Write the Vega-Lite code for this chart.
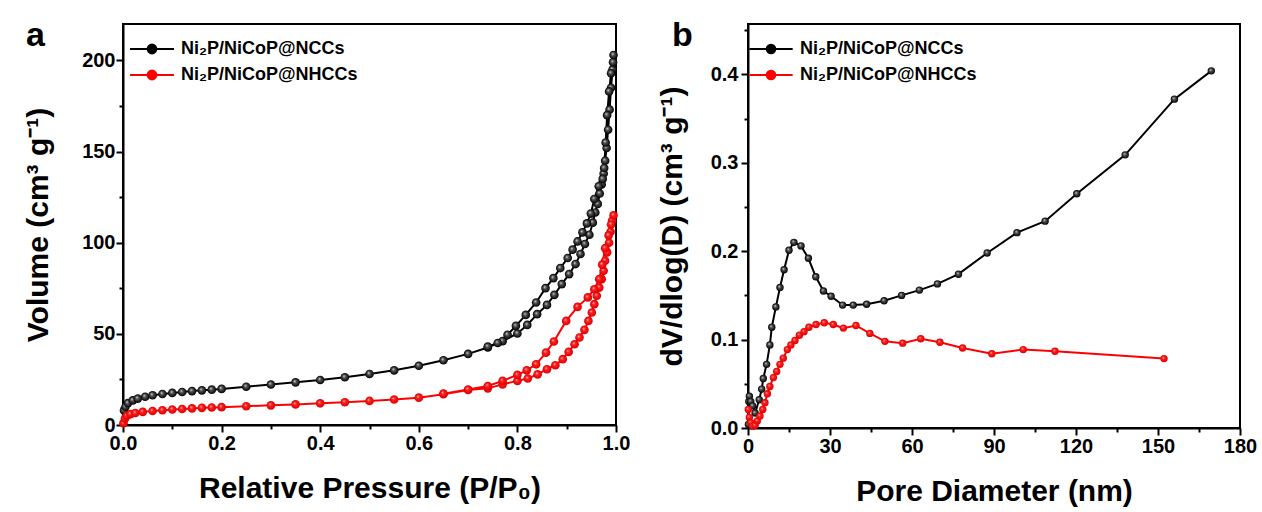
{
  "$schema": "https://vega.github.io/schema/vega-lite/v6.json",
  "background": "white",
  "padding": {"left": 22, "top": 18, "right": 10, "bottom": 5},
  "spacing": 25,
  "config": {
    "font": "Liberation Sans",
    "view": {"stroke": "black", "strokeWidth": 2},
    "axis": {
      "grid": false,
      "domainColor": "black",
      "domainWidth": 2,
      "tickColor": "black",
      "tickWidth": 2,
      "labelColor": "black",
      "labelFont": "Liberation Sans",
      "labelFontSize": 20,
      "labelFontWeight": "bold",
      "labelOverlap": false,
      "labelFlush": false,
      "titleColor": "black",
      "titleFont": "Liberation Sans",
      "titleFontSize": 30,
      "titleFontWeight": "bold"
    },
    "legend": {
      "labelFont": "Liberation Sans",
      "labelFontSize": 18,
      "labelFontWeight": "bold",
      "labelColor": "black",
      "labelLimit": 400
    }
  },
  "resolve": {"scale": {"color": "independent"}, "legend": {"color": "independent"}},
  "datasets": {
    "iso": [
      {"s": "Ni₂P/NiCoP@NCCs", "o": 1, "p": 0.002, "v": 8},
      {"s": "Ni₂P/NiCoP@NCCs", "o": 2, "p": 0.005, "v": 10},
      {"s": "Ni₂P/NiCoP@NCCs", "o": 3, "p": 0.01, "v": 12},
      {"s": "Ni₂P/NiCoP@NCCs", "o": 4, "p": 0.02, "v": 13.5},
      {"s": "Ni₂P/NiCoP@NCCs", "o": 5, "p": 0.03, "v": 14.5},
      {"s": "Ni₂P/NiCoP@NCCs", "o": 6, "p": 0.045, "v": 15.5},
      {"s": "Ni₂P/NiCoP@NCCs", "o": 7, "p": 0.06, "v": 16.3},
      {"s": "Ni₂P/NiCoP@NCCs", "o": 8, "p": 0.08, "v": 17},
      {"s": "Ni₂P/NiCoP@NCCs", "o": 9, "p": 0.1, "v": 17.6},
      {"s": "Ni₂P/NiCoP@NCCs", "o": 10, "p": 0.12, "v": 18.1},
      {"s": "Ni₂P/NiCoP@NCCs", "o": 11, "p": 0.14, "v": 18.6},
      {"s": "Ni₂P/NiCoP@NCCs", "o": 12, "p": 0.16, "v": 19},
      {"s": "Ni₂P/NiCoP@NCCs", "o": 13, "p": 0.18, "v": 19.4},
      {"s": "Ni₂P/NiCoP@NCCs", "o": 14, "p": 0.2, "v": 19.8},
      {"s": "Ni₂P/NiCoP@NCCs", "o": 15, "p": 0.25, "v": 21},
      {"s": "Ni₂P/NiCoP@NCCs", "o": 16, "p": 0.3, "v": 22.2},
      {"s": "Ni₂P/NiCoP@NCCs", "o": 17, "p": 0.35, "v": 23.4},
      {"s": "Ni₂P/NiCoP@NCCs", "o": 18, "p": 0.4, "v": 24.7},
      {"s": "Ni₂P/NiCoP@NCCs", "o": 19, "p": 0.45, "v": 26.2},
      {"s": "Ni₂P/NiCoP@NCCs", "o": 20, "p": 0.5, "v": 28},
      {"s": "Ni₂P/NiCoP@NCCs", "o": 21, "p": 0.55, "v": 30},
      {"s": "Ni₂P/NiCoP@NCCs", "o": 22, "p": 0.6, "v": 32.5},
      {"s": "Ni₂P/NiCoP@NCCs", "o": 23, "p": 0.65, "v": 35.5},
      {"s": "Ni₂P/NiCoP@NCCs", "o": 24, "p": 0.7, "v": 39},
      {"s": "Ni₂P/NiCoP@NCCs", "o": 25, "p": 0.74, "v": 42.5},
      {"s": "Ni₂P/NiCoP@NCCs", "o": 26, "p": 0.77, "v": 46},
      {"s": "Ni₂P/NiCoP@NCCs", "o": 27, "p": 0.8, "v": 50.2},
      {"s": "Ni₂P/NiCoP@NCCs", "o": 28, "p": 0.82, "v": 54.9},
      {"s": "Ni₂P/NiCoP@NCCs", "o": 29, "p": 0.84, "v": 60.8},
      {"s": "Ni₂P/NiCoP@NCCs", "o": 30, "p": 0.86, "v": 65.9},
      {"s": "Ni₂P/NiCoP@NCCs", "o": 31, "p": 0.875, "v": 71.4},
      {"s": "Ni₂P/NiCoP@NCCs", "o": 32, "p": 0.89, "v": 77.3},
      {"s": "Ni₂P/NiCoP@NCCs", "o": 33, "p": 0.905, "v": 82.8},
      {"s": "Ni₂P/NiCoP@NCCs", "o": 34, "p": 0.918, "v": 88.3},
      {"s": "Ni₂P/NiCoP@NCCs", "o": 35, "p": 0.928, "v": 93.8},
      {"s": "Ni₂P/NiCoP@NCCs", "o": 36, "p": 0.937, "v": 99.3},
      {"s": "Ni₂P/NiCoP@NCCs", "o": 37, "p": 0.946, "v": 104.4},
      {"s": "Ni₂P/NiCoP@NCCs", "o": 38, "p": 0.953, "v": 111},
      {"s": "Ni₂P/NiCoP@NCCs", "o": 39, "p": 0.958, "v": 116.6},
      {"s": "Ni₂P/NiCoP@NCCs", "o": 40, "p": 0.963, "v": 121.3},
      {"s": "Ni₂P/NiCoP@NCCs", "o": 41, "p": 0.967, "v": 127},
      {"s": "Ni₂P/NiCoP@NCCs", "o": 42, "p": 0.971, "v": 132},
      {"s": "Ni₂P/NiCoP@NCCs", "o": 43, "p": 0.975, "v": 138},
      {"s": "Ni₂P/NiCoP@NCCs", "o": 44, "p": 0.978, "v": 145},
      {"s": "Ni₂P/NiCoP@NCCs", "o": 45, "p": 0.981, "v": 152},
      {"s": "Ni₂P/NiCoP@NCCs", "o": 46, "p": 0.984, "v": 162},
      {"s": "Ni₂P/NiCoP@NCCs", "o": 47, "p": 0.987, "v": 173},
      {"s": "Ni₂P/NiCoP@NCCs", "o": 48, "p": 0.99, "v": 185},
      {"s": "Ni₂P/NiCoP@NCCs", "o": 49, "p": 0.993, "v": 195},
      {"s": "Ni₂P/NiCoP@NCCs", "o": 50, "p": 0.995, "v": 203},
      {"s": "Ni₂P/NiCoP@NCCs", "o": 51, "p": 0.994, "v": 199},
      {"s": "Ni₂P/NiCoP@NCCs", "o": 52, "p": 0.99, "v": 193},
      {"s": "Ni₂P/NiCoP@NCCs", "o": 53, "p": 0.986, "v": 183},
      {"s": "Ni₂P/NiCoP@NCCs", "o": 54, "p": 0.982, "v": 170},
      {"s": "Ni₂P/NiCoP@NCCs", "o": 55, "p": 0.979, "v": 155},
      {"s": "Ni₂P/NiCoP@NCCs", "o": 56, "p": 0.976, "v": 141},
      {"s": "Ni₂P/NiCoP@NCCs", "o": 57, "p": 0.973, "v": 135},
      {"s": "Ni₂P/NiCoP@NCCs", "o": 58, "p": 0.965, "v": 131},
      {"s": "Ni₂P/NiCoP@NCCs", "o": 59, "p": 0.956, "v": 124},
      {"s": "Ni₂P/NiCoP@NCCs", "o": 60, "p": 0.949, "v": 116},
      {"s": "Ni₂P/NiCoP@NCCs", "o": 61, "p": 0.941, "v": 110.6},
      {"s": "Ni₂P/NiCoP@NCCs", "o": 62, "p": 0.932, "v": 105.7},
      {"s": "Ni₂P/NiCoP@NCCs", "o": 63, "p": 0.922, "v": 100.7},
      {"s": "Ni₂P/NiCoP@NCCs", "o": 64, "p": 0.912, "v": 96.2},
      {"s": "Ni₂P/NiCoP@NCCs", "o": 65, "p": 0.902, "v": 91.6},
      {"s": "Ni₂P/NiCoP@NCCs", "o": 66, "p": 0.887, "v": 86.1},
      {"s": "Ni₂P/NiCoP@NCCs", "o": 67, "p": 0.873, "v": 80.6},
      {"s": "Ni₂P/NiCoP@NCCs", "o": 68, "p": 0.857, "v": 75.1},
      {"s": "Ni₂P/NiCoP@NCCs", "o": 69, "p": 0.838, "v": 67.2},
      {"s": "Ni₂P/NiCoP@NCCs", "o": 70, "p": 0.817, "v": 60.4},
      {"s": "Ni₂P/NiCoP@NCCs", "o": 71, "p": 0.797, "v": 54.4},
      {"s": "Ni₂P/NiCoP@NCCs", "o": 72, "p": 0.78, "v": 49.5},
      {"s": "Ni₂P/NiCoP@NCCs", "o": 73, "p": 0.76, "v": 45},
      {"s": "Ni₂P/NiCoP@NCCs", "o": 74, "p": 0.74, "v": 43},
      {"s": "Ni₂P/NiCoP@NHCCs", "o": 1, "p": 0.001, "v": 1},
      {"s": "Ni₂P/NiCoP@NHCCs", "o": 2, "p": 0.004, "v": 3.5},
      {"s": "Ni₂P/NiCoP@NHCCs", "o": 3, "p": 0.008, "v": 5},
      {"s": "Ni₂P/NiCoP@NHCCs", "o": 4, "p": 0.015, "v": 6},
      {"s": "Ni₂P/NiCoP@NHCCs", "o": 5, "p": 0.025, "v": 6.6},
      {"s": "Ni₂P/NiCoP@NHCCs", "o": 6, "p": 0.04, "v": 7.2},
      {"s": "Ni₂P/NiCoP@NHCCs", "o": 7, "p": 0.06, "v": 7.7},
      {"s": "Ni₂P/NiCoP@NHCCs", "o": 8, "p": 0.08, "v": 8.1},
      {"s": "Ni₂P/NiCoP@NHCCs", "o": 9, "p": 0.1, "v": 8.5},
      {"s": "Ni₂P/NiCoP@NHCCs", "o": 10, "p": 0.12, "v": 8.8},
      {"s": "Ni₂P/NiCoP@NHCCs", "o": 11, "p": 0.14, "v": 9.1},
      {"s": "Ni₂P/NiCoP@NHCCs", "o": 12, "p": 0.16, "v": 9.4},
      {"s": "Ni₂P/NiCoP@NHCCs", "o": 13, "p": 0.18, "v": 9.6},
      {"s": "Ni₂P/NiCoP@NHCCs", "o": 14, "p": 0.2, "v": 9.8},
      {"s": "Ni₂P/NiCoP@NHCCs", "o": 15, "p": 0.25, "v": 10.3},
      {"s": "Ni₂P/NiCoP@NHCCs", "o": 16, "p": 0.3, "v": 10.8},
      {"s": "Ni₂P/NiCoP@NHCCs", "o": 17, "p": 0.35, "v": 11.3},
      {"s": "Ni₂P/NiCoP@NHCCs", "o": 18, "p": 0.4, "v": 11.9},
      {"s": "Ni₂P/NiCoP@NHCCs", "o": 19, "p": 0.45, "v": 12.5},
      {"s": "Ni₂P/NiCoP@NHCCs", "o": 20, "p": 0.5, "v": 13.2},
      {"s": "Ni₂P/NiCoP@NHCCs", "o": 21, "p": 0.55, "v": 14},
      {"s": "Ni₂P/NiCoP@NHCCs", "o": 22, "p": 0.6, "v": 15},
      {"s": "Ni₂P/NiCoP@NHCCs", "o": 23, "p": 0.65, "v": 16.9},
      {"s": "Ni₂P/NiCoP@NHCCs", "o": 24, "p": 0.7, "v": 19.2},
      {"s": "Ni₂P/NiCoP@NHCCs", "o": 25, "p": 0.74, "v": 20.1},
      {"s": "Ni₂P/NiCoP@NHCCs", "o": 26, "p": 0.77, "v": 22.3},
      {"s": "Ni₂P/NiCoP@NHCCs", "o": 27, "p": 0.8, "v": 24.2},
      {"s": "Ni₂P/NiCoP@NHCCs", "o": 28, "p": 0.821, "v": 25.5},
      {"s": "Ni₂P/NiCoP@NHCCs", "o": 29, "p": 0.841, "v": 27.8},
      {"s": "Ni₂P/NiCoP@NHCCs", "o": 30, "p": 0.86, "v": 30.6},
      {"s": "Ni₂P/NiCoP@NHCCs", "o": 31, "p": 0.877, "v": 32.8},
      {"s": "Ni₂P/NiCoP@NHCCs", "o": 32, "p": 0.892, "v": 36.1},
      {"s": "Ni₂P/NiCoP@NHCCs", "o": 33, "p": 0.904, "v": 40.1},
      {"s": "Ni₂P/NiCoP@NHCCs", "o": 34, "p": 0.916, "v": 44.3},
      {"s": "Ni₂P/NiCoP@NHCCs", "o": 35, "p": 0.926, "v": 48},
      {"s": "Ni₂P/NiCoP@NHCCs", "o": 36, "p": 0.936, "v": 52.2},
      {"s": "Ni₂P/NiCoP@NHCCs", "o": 37, "p": 0.944, "v": 57.1},
      {"s": "Ni₂P/NiCoP@NHCCs", "o": 38, "p": 0.951, "v": 61.7},
      {"s": "Ni₂P/NiCoP@NHCCs", "o": 39, "p": 0.956, "v": 66.3},
      {"s": "Ni₂P/NiCoP@NHCCs", "o": 40, "p": 0.961, "v": 70.9},
      {"s": "Ni₂P/NiCoP@NHCCs", "o": 41, "p": 0.966, "v": 75.4},
      {"s": "Ni₂P/NiCoP@NHCCs", "o": 42, "p": 0.971, "v": 80},
      {"s": "Ni₂P/NiCoP@NHCCs", "o": 43, "p": 0.975, "v": 84.6},
      {"s": "Ni₂P/NiCoP@NHCCs", "o": 44, "p": 0.978, "v": 90.1},
      {"s": "Ni₂P/NiCoP@NHCCs", "o": 45, "p": 0.982, "v": 94.7},
      {"s": "Ni₂P/NiCoP@NHCCs", "o": 46, "p": 0.986, "v": 100},
      {"s": "Ni₂P/NiCoP@NHCCs", "o": 47, "p": 0.989, "v": 106},
      {"s": "Ni₂P/NiCoP@NHCCs", "o": 48, "p": 0.992, "v": 112},
      {"s": "Ni₂P/NiCoP@NHCCs", "o": 49, "p": 0.995, "v": 115},
      {"s": "Ni₂P/NiCoP@NHCCs", "o": 50, "p": 0.99, "v": 110},
      {"s": "Ni₂P/NiCoP@NHCCs", "o": 51, "p": 0.985, "v": 104},
      {"s": "Ni₂P/NiCoP@NHCCs", "o": 52, "p": 0.978, "v": 97},
      {"s": "Ni₂P/NiCoP@NHCCs", "o": 53, "p": 0.972, "v": 88},
      {"s": "Ni₂P/NiCoP@NHCCs", "o": 54, "p": 0.966, "v": 80},
      {"s": "Ni₂P/NiCoP@NHCCs", "o": 55, "p": 0.956, "v": 74.5},
      {"s": "Ni₂P/NiCoP@NHCCs", "o": 56, "p": 0.943, "v": 70},
      {"s": "Ni₂P/NiCoP@NHCCs", "o": 57, "p": 0.922, "v": 64.8},
      {"s": "Ni₂P/NiCoP@NHCCs", "o": 58, "p": 0.899, "v": 57.1},
      {"s": "Ni₂P/NiCoP@NHCCs", "o": 59, "p": 0.874, "v": 45.8},
      {"s": "Ni₂P/NiCoP@NHCCs", "o": 60, "p": 0.858, "v": 39.7},
      {"s": "Ni₂P/NiCoP@NHCCs", "o": 61, "p": 0.838, "v": 33.3},
      {"s": "Ni₂P/NiCoP@NHCCs", "o": 62, "p": 0.819, "v": 30},
      {"s": "Ni₂P/NiCoP@NHCCs", "o": 63, "p": 0.8, "v": 27.5},
      {"s": "Ni₂P/NiCoP@NHCCs", "o": 64, "p": 0.77, "v": 24.2},
      {"s": "Ni₂P/NiCoP@NHCCs", "o": 65, "p": 0.74, "v": 21.4},
      {"s": "Ni₂P/NiCoP@NHCCs", "o": 66, "p": 0.7, "v": 19.5},
      {"s": "Ni₂P/NiCoP@NHCCs", "o": 67, "p": 0.65, "v": 17.2}
    ],
    "psd": [
      {"s": "Ni₂P/NiCoP@NCCs", "d": 0.15, "v": 0.004},
      {"s": "Ni₂P/NiCoP@NCCs", "d": 0.3, "v": 0.03},
      {"s": "Ni₂P/NiCoP@NCCs", "d": 0.5, "v": 0.036},
      {"s": "Ni₂P/NiCoP@NCCs", "d": 1, "v": 0.03},
      {"s": "Ni₂P/NiCoP@NCCs", "d": 1.7, "v": 0.025},
      {"s": "Ni₂P/NiCoP@NCCs", "d": 2.6, "v": 0.017},
      {"s": "Ni₂P/NiCoP@NCCs", "d": 4.1, "v": 0.032},
      {"s": "Ni₂P/NiCoP@NCCs", "d": 5, "v": 0.044},
      {"s": "Ni₂P/NiCoP@NCCs", "d": 5.6, "v": 0.056},
      {"s": "Ni₂P/NiCoP@NCCs", "d": 6.8, "v": 0.072},
      {"s": "Ni₂P/NiCoP@NCCs", "d": 8, "v": 0.094},
      {"s": "Ni₂P/NiCoP@NCCs", "d": 8.7, "v": 0.114},
      {"s": "Ni₂P/NiCoP@NCCs", "d": 10.2, "v": 0.137},
      {"s": "Ni₂P/NiCoP@NCCs", "d": 11.7, "v": 0.159},
      {"s": "Ni₂P/NiCoP@NCCs", "d": 13.2, "v": 0.179},
      {"s": "Ni₂P/NiCoP@NCCs", "d": 15, "v": 0.201},
      {"s": "Ni₂P/NiCoP@NCCs", "d": 16.8, "v": 0.21},
      {"s": "Ni₂P/NiCoP@NCCs", "d": 19.4, "v": 0.206},
      {"s": "Ni₂P/NiCoP@NCCs", "d": 22.1, "v": 0.192},
      {"s": "Ni₂P/NiCoP@NCCs", "d": 24.8, "v": 0.171},
      {"s": "Ni₂P/NiCoP@NCCs", "d": 27.6, "v": 0.155},
      {"s": "Ni₂P/NiCoP@NCCs", "d": 30.4, "v": 0.149},
      {"s": "Ni₂P/NiCoP@NCCs", "d": 34.6, "v": 0.139},
      {"s": "Ni₂P/NiCoP@NCCs", "d": 38.5, "v": 0.139},
      {"s": "Ni₂P/NiCoP@NCCs", "d": 43.4, "v": 0.14},
      {"s": "Ni₂P/NiCoP@NCCs", "d": 49.8, "v": 0.144},
      {"s": "Ni₂P/NiCoP@NCCs", "d": 56.2, "v": 0.15},
      {"s": "Ni₂P/NiCoP@NCCs", "d": 62.7, "v": 0.156},
      {"s": "Ni₂P/NiCoP@NCCs", "d": 69.3, "v": 0.163},
      {"s": "Ni₂P/NiCoP@NCCs", "d": 77, "v": 0.174},
      {"s": "Ni₂P/NiCoP@NCCs", "d": 87.5, "v": 0.198},
      {"s": "Ni₂P/NiCoP@NCCs", "d": 98.4, "v": 0.221},
      {"s": "Ni₂P/NiCoP@NCCs", "d": 108.7, "v": 0.234},
      {"s": "Ni₂P/NiCoP@NCCs", "d": 120.3, "v": 0.265},
      {"s": "Ni₂P/NiCoP@NCCs", "d": 138, "v": 0.309},
      {"s": "Ni₂P/NiCoP@NCCs", "d": 156, "v": 0.372},
      {"s": "Ni₂P/NiCoP@NCCs", "d": 169.5, "v": 0.404},
      {"s": "Ni₂P/NiCoP@NHCCs", "d": 0.1, "v": 0.021},
      {"s": "Ni₂P/NiCoP@NHCCs", "d": 0.5, "v": 0.012},
      {"s": "Ni₂P/NiCoP@NHCCs", "d": 1, "v": 0.006},
      {"s": "Ni₂P/NiCoP@NHCCs", "d": 1.7, "v": 0.002},
      {"s": "Ni₂P/NiCoP@NHCCs", "d": 2.6, "v": 0.003},
      {"s": "Ni₂P/NiCoP@NHCCs", "d": 3.4, "v": 0.008},
      {"s": "Ni₂P/NiCoP@NHCCs", "d": 4.4, "v": 0.0135},
      {"s": "Ni₂P/NiCoP@NHCCs", "d": 5.4, "v": 0.021},
      {"s": "Ni₂P/NiCoP@NHCCs", "d": 6.2, "v": 0.0285},
      {"s": "Ni₂P/NiCoP@NHCCs", "d": 7.1, "v": 0.0387},
      {"s": "Ni₂P/NiCoP@NHCCs", "d": 8, "v": 0.047},
      {"s": "Ni₂P/NiCoP@NHCCs", "d": 9.3, "v": 0.057},
      {"s": "Ni₂P/NiCoP@NHCCs", "d": 10.5, "v": 0.064},
      {"s": "Ni₂P/NiCoP@NHCCs", "d": 11.7, "v": 0.072},
      {"s": "Ni₂P/NiCoP@NHCCs", "d": 12.9, "v": 0.079},
      {"s": "Ni₂P/NiCoP@NHCCs", "d": 14.4, "v": 0.0887},
      {"s": "Ni₂P/NiCoP@NHCCs", "d": 15.7, "v": 0.094},
      {"s": "Ni₂P/NiCoP@NHCCs", "d": 17.2, "v": 0.099},
      {"s": "Ni₂P/NiCoP@NHCCs", "d": 18.8, "v": 0.105},
      {"s": "Ni₂P/NiCoP@NHCCs", "d": 20.5, "v": 0.109},
      {"s": "Ni₂P/NiCoP@NHCCs", "d": 22.3, "v": 0.114},
      {"s": "Ni₂P/NiCoP@NHCCs", "d": 24.9, "v": 0.117},
      {"s": "Ni₂P/NiCoP@NHCCs", "d": 27.9, "v": 0.119},
      {"s": "Ni₂P/NiCoP@NHCCs", "d": 31.2, "v": 0.117},
      {"s": "Ni₂P/NiCoP@NHCCs", "d": 34.9, "v": 0.113},
      {"s": "Ni₂P/NiCoP@NHCCs", "d": 39.5, "v": 0.116},
      {"s": "Ni₂P/NiCoP@NHCCs", "d": 44.6, "v": 0.107},
      {"s": "Ni₂P/NiCoP@NHCCs", "d": 50.1, "v": 0.098},
      {"s": "Ni₂P/NiCoP@NHCCs", "d": 56.6, "v": 0.096},
      {"s": "Ni₂P/NiCoP@NHCCs", "d": 63.2, "v": 0.101},
      {"s": "Ni₂P/NiCoP@NHCCs", "d": 70.2, "v": 0.097},
      {"s": "Ni₂P/NiCoP@NHCCs", "d": 78.5, "v": 0.0905},
      {"s": "Ni₂P/NiCoP@NHCCs", "d": 89.2, "v": 0.084},
      {"s": "Ni₂P/NiCoP@NHCCs", "d": 100.7, "v": 0.0887},
      {"s": "Ni₂P/NiCoP@NHCCs", "d": 112.3, "v": 0.0868},
      {"s": "Ni₂P/NiCoP@NHCCs", "d": 152.2, "v": 0.0785}
    ]
  },
  "hconcat": [
    {
      "width": 493,
      "height": 401,
      "view": {"stroke": "black", "strokeWidth": 2},
      "title": {"text": "a", "anchor": "start", "frame": "group", "fontSize": 34, "fontWeight": "bold", "font": "Liberation Sans", "color": "black", "baseline": "alphabetic", "dx": -97, "dy": 56, "offset": 0},
      "data": {"name": "iso"},
      "encoding": {
        "x": {"field": "p", "type": "quantitative", "scale": {"domain": [0, 1], "nice": false, "zero": false},
          "axis": {"title": "Relative Pressure (P/P₀)", "titlePadding": 20, "labelPadding": 1, "tickSize": {"condition": {"test": "round(datum.value*10) % 2 == 0", "value": 7}, "value": 4},
            "values": [0, 0.1, 0.2, 0.3, 0.4, 0.5, 0.6, 0.7, 0.8, 0.9, 1.0],
            "labelExpr": "round(datum.value*10) % 2 == 0 ? format(datum.value, '.1f') : ''"}},
        "y": {"field": "v", "type": "quantitative", "scale": {"domain": [0, 220], "nice": false},
          "axis": {"title": "Volume (cm³ g⁻¹)", "titlePadding": 28, "labelPadding": 1, "tickSize": {"condition": {"test": "datum.value % 50 == 0", "value": 7}, "value": 4},
            "values": [0, 25, 50, 75, 100, 125, 150, 175, 200],
            "labelExpr": "datum.value % 50 == 0 ? datum.label : ''"}}
      },
      "layer": [
        {
          "mark": {"type": "line", "strokeWidth": 2},
          "encoding": {
            "order": {"field": "o", "type": "quantitative"},
            "color": {"field": "s", "type": "nominal",
              "scale": {"domain": ["Ni₂P/NiCoP@NCCs", "Ni₂P/NiCoP@NHCCs"], "range": ["black", "#ff0000"]},
              "legend": {"title": null, "orient": "none", "legendX": 17, "legendY": 13, "rowPadding": 5,
                "symbolType": "M-2,0H-0.4M0.4,0H2M-0.4,0A0.4,0.4 0 1,1 0.4,0A0.4,0.4 0 1,1 -0.4,0Z",
                "symbolSize": 484, "symbolStrokeWidth": 2, "labelOffset": 17,
                "encode": {"symbols": {"update": {
                  "fill": [{"test": "datum.value === 'Ni₂P/NiCoP@NHCCs'", "value": "#ff0000"}, {"value": "black"}],
                  "stroke": [{"test": "datum.value === 'Ni₂P/NiCoP@NHCCs'", "value": "#ff0000"}, {"value": "black"}]}}}}}
          }
        },
        {
          "transform": [{"filter": "datum.s === 'Ni₂P/NiCoP@NCCs'"}],
          "mark": {"type": "point", "filled": true, "size": 75, "opacity": 1,
            "fill": {"gradient": "radial", "x1": 0.38, "y1": 0.35, "r1": 0, "x2": 0.5, "y2": 0.5, "r2": 0.5,
              "stops": [{"offset": 0, "color": "#e8e8e8"}, {"offset": 0.35, "color": "#555555"}, {"offset": 1, "color": "#000000"}]}}
        },
        {
          "transform": [{"filter": "datum.s === 'Ni₂P/NiCoP@NHCCs'"}],
          "mark": {"type": "point", "filled": true, "size": 75, "opacity": 1,
            "fill": {"gradient": "radial", "x1": 0.38, "y1": 0.35, "r1": 0, "x2": 0.5, "y2": 0.5, "r2": 0.5,
              "stops": [{"offset": 0, "color": "#ffd0d0"}, {"offset": 0.35, "color": "#ff2020"}, {"offset": 1, "color": "#dd0000"}]}}
        }
      ]
    },
    {
      "width": 492,
      "height": 404,
      "view": {"stroke": "black", "strokeWidth": 2},
      "title": {"text": "b", "anchor": "start", "frame": "group", "fontSize": 34, "fontWeight": "bold", "font": "Liberation Sans", "color": "black", "baseline": "alphabetic", "dx": -76, "dy": 60, "offset": 0},
      "data": {"name": "psd"},
      "encoding": {
        "x": {"field": "d", "type": "quantitative", "scale": {"domain": [0, 180], "nice": false, "zero": false},
          "axis": {"title": "Pore Diameter (nm)", "titlePadding": 20, "labelPadding": 1, "tickSize": {"condition": {"test": "datum.value % 30 == 0", "value": 7}, "value": 4},
            "values": [0, 15, 30, 45, 60, 75, 90, 105, 120, 135, 150, 165, 180],
            "labelExpr": "datum.value % 30 == 0 ? datum.label : ''"}},
        "y": {"field": "v", "type": "quantitative", "scale": {"domain": [0, 0.457], "nice": false},
          "axis": {"title": "dV/dlog(D) (cm³ g⁻¹)", "titlePadding": 23, "labelPadding": 3, "tickSize": {"condition": {"test": "round(datum.value*100) % 10 == 0", "value": 7}, "value": 4},
            "values": [0, 0.05, 0.1, 0.15, 0.2, 0.25, 0.3, 0.35, 0.4, 0.45],
            "labelExpr": "round(datum.value*100) % 10 == 0 ? format(datum.value, '.1f') : ''"}}
      },
      "layer": [
        {
          "mark": {"type": "line", "strokeWidth": 2},
          "encoding": {
            "color": {"field": "s", "type": "nominal",
              "scale": {"domain": ["Ni₂P/NiCoP@NCCs", "Ni₂P/NiCoP@NHCCs"], "range": ["black", "#ff0000"]},
              "legend": {"title": null, "orient": "none", "legendX": 11, "legendY": 13, "rowPadding": 5,
                "symbolType": "M-2,0H-0.4M0.4,0H2M-0.4,0A0.4,0.4 0 1,1 0.4,0A0.4,0.4 0 1,1 -0.4,0Z",
                "symbolSize": 470, "symbolStrokeWidth": 2, "labelOffset": 17,
                "encode": {"symbols": {"update": {
                  "fill": [{"test": "datum.value === 'Ni₂P/NiCoP@NHCCs'", "value": "#ff0000"}, {"value": "black"}],
                  "stroke": [{"test": "datum.value === 'Ni₂P/NiCoP@NHCCs'", "value": "#ff0000"}, {"value": "black"}]}}}}}
          }
        },
        {
          "transform": [{"filter": "datum.s === 'Ni₂P/NiCoP@NCCs'"}],
          "mark": {"type": "point", "filled": true, "size": 55, "opacity": 1,
            "fill": {"gradient": "radial", "x1": 0.38, "y1": 0.35, "r1": 0, "x2": 0.5, "y2": 0.5, "r2": 0.5,
              "stops": [{"offset": 0, "color": "#e8e8e8"}, {"offset": 0.35, "color": "#555555"}, {"offset": 1, "color": "#000000"}]}}
        },
        {
          "transform": [{"filter": "datum.s === 'Ni₂P/NiCoP@NHCCs'"}],
          "mark": {"type": "point", "filled": true, "size": 55, "opacity": 1,
            "fill": {"gradient": "radial", "x1": 0.38, "y1": 0.35, "r1": 0, "x2": 0.5, "y2": 0.5, "r2": 0.5,
              "stops": [{"offset": 0, "color": "#ffd0d0"}, {"offset": 0.35, "color": "#ff2020"}, {"offset": 1, "color": "#dd0000"}]}}
        }
      ]
    }
  ]
}
